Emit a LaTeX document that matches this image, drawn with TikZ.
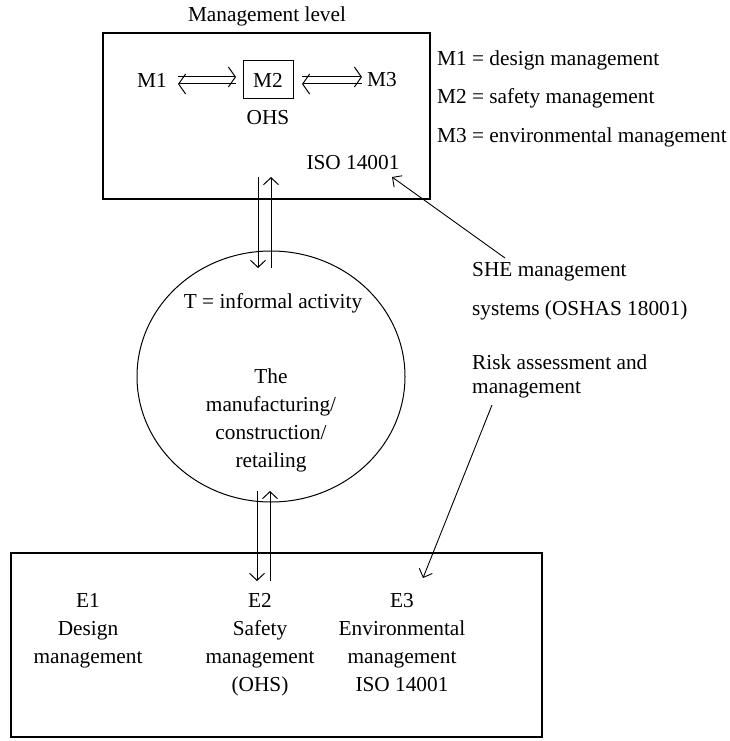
\documentclass[tikz,border=0pt]{standalone}
\usepackage{fontspec}
\setmainfont{Liberation Serif}
\usetikzlibrary{arrows.meta,shapes.geometric}
\begin{document}
\begin{tikzpicture}[x=1pt,y=-1pt,
  every node/.style={font=\fontsize{21.3}{28}\selectfont, inner sep=0pt, align=center},
  frame/.style={draw, line width=1.2pt},
  dbl/.style={line width=1pt, -{Straight Barb[length=7pt,width=20pt,line width=1pt]}},
  vert/.style={line width=1pt, -{Straight Barb[length=7pt,width=15pt,line width=1pt]}},
  thin/.style={line width=0.9pt, -{Straight Barb[length=7pt,width=14pt,line width=0.9pt]}},
  side/.style={anchor=west, align=left}]
\useasboundingbox (0,0) rectangle (730,741);
% top box
\node[frame, minimum width=327pt, minimum height=166pt] (top) at (266.5,116) {};
\node (mlev) at (267,16) {Management level};
\node[draw, line width=1pt, minimum width=50pt, minimum height=38pt] (m2) at (268,80) {M2};
\node (m1) at (152,80) {M1};
\node (m3) at (382,80) {M3};
\node (ohs) at (268,118) {OHS};
\node (iso) at (353,163) {ISO 14001};
\coordinate (a1) at (178,77); \coordinate (a2) at (236,77);
\coordinate (a3) at (178,84); \coordinate (a4) at (236,84);
\draw[dbl] (a1) -- (a2);
\draw[dbl] (a4) -- (a3);
\coordinate (b1) at (302,77); \coordinate (b2) at (362,77);
\coordinate (b3) at (302,84); \coordinate (b4) at (362,84);
\draw[dbl] (b1) -- (b2);
\draw[dbl] (b4) -- (b3);
% right texts
\node[side] (d1) at (437,60) {M1 = design management};
\node[side] (d2) at (437,98) {M2 = safety management};
\node[side] (d3) at (437,137) {M3 = environmental management};
\node[side] (she1) at (472,272) {SHE management};
\node[side] (she2) at (472,310) {systems (OSHAS 18001)};
\node[side] (risk1) at (472,362) {Risk assessment and};
\node[side] (risk2) at (472,390) {management};
% circle
\node[draw, line width=1pt, ellipse, minimum width=268pt, minimum height=251pt] (circ) at (271,376.5) {};
\node (t) at (273,303) {T = informal activity};
\node (the) at (271,420) {The\\manufacturing/\\construction/\\retailing};
% bottom box
\node[frame, minimum width=531pt, minimum height=184pt] (bot) at (276.5,645) {};
\node (e1) at (88,631) {E1\\Design\\management};
\node (e2) at (260,645) {E2\\Safety\\management\\(OHS)};
\node (e3) at (402,643) {E3\\Environmental\\management\\ISO 14001};
% vertical arrows
\coordinate (v1) at (258,177); \coordinate (v2) at (258,268);
\coordinate (v3) at (271,268); \coordinate (v4) at (271,177);
\draw[vert] (v1) -- (v2);
\draw[vert] (v3) -- (v4);
\coordinate (w1) at (257,491); \coordinate (w2) at (257,581);
\coordinate (w3) at (270,581); \coordinate (w4) at (270,491);
\draw[vert] (w1) -- (w2);
\draw[vert] (w3) -- (w4);
% pointer arrows
\coordinate (s0) at (505,258); \coordinate (s1) at (392,177);
\draw[thin] (s0) -- (s1);
\coordinate (r0) at (492,405); \coordinate (r1) at (423,578);
\draw[thin] (r0) -- (r1);
\end{tikzpicture}
\end{document}
